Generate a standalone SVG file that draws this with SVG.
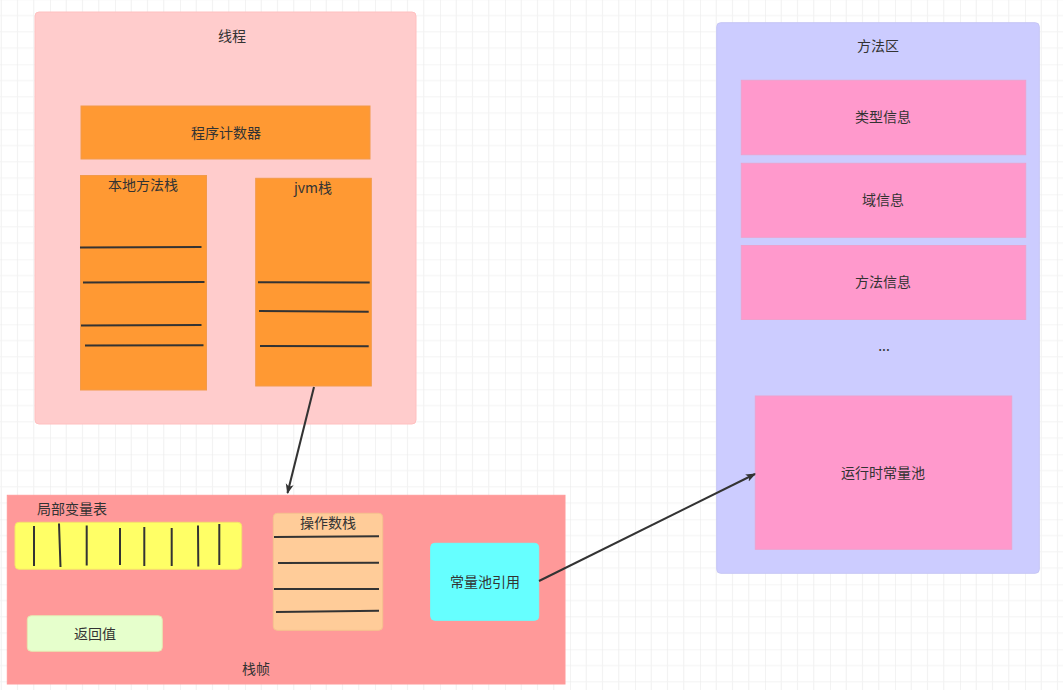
<svg xmlns="http://www.w3.org/2000/svg" width="1063" height="690" viewBox="0 0 1063 690">
<defs>
<pattern id="grid" x="50" y="-0.7" width="65" height="65" patternUnits="userSpaceOnUse">
<path d="M16.25 0V65M32.5 0V65M48.75 0V65M0 16.25H65M0 32.5H65M0 48.75H65" fill="none" stroke="#f3f3f3" stroke-width="1.2"/>
<path d="M0 0H65M0 0V65" fill="none" stroke="#ebebeb" stroke-width="1.2"/>
</pattern>
<marker id="arr" markerWidth="10" markerHeight="10" refX="9" refY="5" orient="auto" markerUnits="userSpaceOnUse" viewBox="0 0 10 10">
<path d="M0 1L10 5L0 9L2.5 5Z" fill="#333333"/>
</marker>
<style>
text{font-family:"Noto Sans CJK SC","Noto Sans",sans-serif;font-size:14px;fill:#333333;text-anchor:middle;dominant-baseline:central}
.ln{stroke:#333333;stroke-width:2;fill:none}
.or{fill:#ff9933;stroke:#f29a4a;stroke-width:1}
.pk{fill:#ff99cc;stroke:#f0a0cc;stroke-width:1}
</style>
</defs>
<rect width="1063" height="690" fill="#ffffff"/>
<rect width="1063" height="690" fill="url(#grid)"/>

<g id="thread">
<rect x="35" y="12" width="381" height="412" rx="4" fill="#ffcccc" stroke="#ffc0c0"/>
<text x="232" y="34.5">线程</text>
</g>
<g id="pc">
<rect class="or" x="81" y="106" width="289" height="53"/>
<text x="226" y="131.5">程序计数器</text>
</g>
<g id="native-stack">
<rect class="or" x="80.5" y="175.5" width="126" height="214.5"/>
<text x="143" y="183.5">本地方法栈</text>
<path class="ln" d="M80 247.5L201.5 247M83 282.5L204.5 282M81 325.5L201.5 325M85 345.5L203.5 345.3"/>
</g>
<g id="jvm-stack">
<rect class="or" x="255.7" y="178.3" width="115.6" height="207.7"/>
<text x="313" y="186.5">jvm栈</text>
<path class="ln" d="M258 282.3L369.7 282.6M259 311L368.7 311.7M260 346L368.7 346.3"/>
</g>

<g id="frame">
<rect x="7.3" y="495.3" width="557.7" height="188.7" fill="#ff9999" stroke="#ff9a9a"/>
<text x="256" y="667.5">栈帧</text>
</g>
<g id="locals-label">
<text x="72" y="507.5">局部变量表</text>
</g>
<g id="locals">
<rect x="15" y="522.3" width="226.7" height="47" rx="4" fill="#ffff66" stroke="#f5e36a"/>
<path class="ln" d="M34 526V566M59 523.5L60.5 567M86.7 525.5V565.5M120 528V565M144.3 527V566M171.7 528V566M198 525.5L198.3 566.5M219.3 524V565"/>
</g>
<g id="retval">
<rect x="27.3" y="615.7" width="135" height="35.6" rx="4" fill="#e6ffcc" stroke="#e6e6b0"/>
<text x="95" y="632.5">返回值</text>
</g>
<g id="operand-stack">
<rect x="273.3" y="513.3" width="109.4" height="117" rx="4" fill="#ffcc99" stroke="#f5c28e"/>
<text x="328" y="521.5">操作数栈</text>
<path class="ln" d="M274 537L379 536.3M278 563L379 562.7M274 589L379 589M276 612L379 610.7"/>
</g>
<g id="cp-ref">
<rect x="430.7" y="543.3" width="108" height="77" rx="4" fill="#66ffff" stroke="#66ffff"/>
<text x="485" y="580.5">常量池引用</text>
</g>

<g id="method-area">
<rect x="716.7" y="22.7" width="322.6" height="550.6" rx="4" fill="#ccccff" stroke="#c6c6f5"/>
<text x="878" y="44.5">方法区</text>
<text x="884" y="345">...</text>
</g>
<g id="type-info">
<rect class="pk" x="741.3" y="80.3" width="284.4" height="74.4"/>
<text x="883" y="115.5">类型信息</text>
</g>
<g id="field-info">
<rect class="pk" x="741.3" y="163.3" width="284.4" height="74"/>
<text x="883" y="198.5">域信息</text>
</g>
<g id="method-info">
<rect class="pk" x="741.3" y="245.5" width="284.4" height="74"/>
<text x="883" y="280.5">方法信息</text>
</g>
<g id="runtime-cp">
<rect class="pk" x="755.3" y="396" width="256.4" height="153.3"/>
<text x="883" y="471.5">运行时常量池</text>
</g>

<g id="connectors">
<path class="ln" d="M314 387L287.5 493" marker-end="url(#arr)"/>
<path class="ln" d="M539 581L755 474" marker-end="url(#arr)"/>
</g>
</svg>
